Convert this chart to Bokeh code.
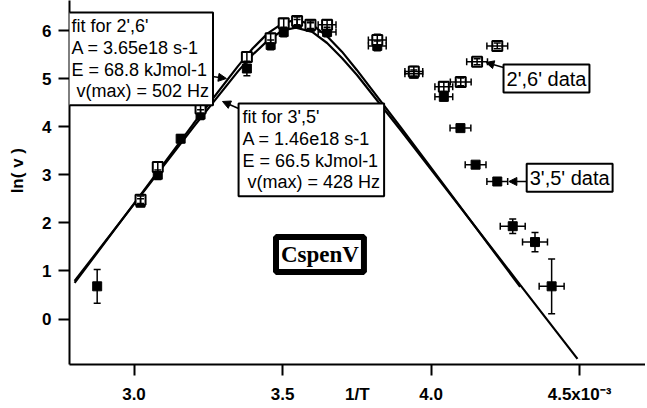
from bokeh.plotting import figure
from bokeh.models import (ColumnDataSource, Whisker, TeeHead, Label, Arrow, NormalHead,
                          FixedTicker, CustomJSTickFormatter, Range1d, LinearAxis,
                          CustomLabelingPolicy)
from bokeh.embed import file_html
from bokeh.resources import INLINE

# ---- data (x in units of 1e-3 K^-1) ----
# 2',6' data (open squares)
x26 = [3.022, 3.080, 3.224, 3.380, 3.460, 3.504, 3.549, 3.594, 3.650, 3.819, 3.942, 4.043, 4.100, 4.155, 4.223]
y26 = [2.48, 3.16, 4.38, 5.45, 5.84, 6.15, 6.20, 6.12, 6.12, 5.80, 5.15, 4.83, 4.93, 5.35, 5.68]
xerr26 = [0, 0, 0, 0, 0, 0, 0, 0, 0.03, 0.03, 0.03, 0.03, 0.035, 0.035, 0.035]
yerr26 = [0.08, 0.10, 0.10, 0.10, 0.10, 0.10, 0.08, 0.08, 0.10, 0.12, 0.10, 0.10, 0.08, 0.06, 0.06]

# 3',5' data (filled squares)
x35 = [2.876, 3.022, 3.080, 3.157, 3.224, 3.380, 3.460, 3.504, 3.549, 3.594, 3.650, 3.819,
       3.942, 4.043, 4.099, 4.150, 4.223, 4.275, 4.350, 4.406]
y35 = [0.68, 2.42, 3.00, 3.75, 4.25, 5.21, 5.70, 5.97, 6.15, 6.08, 5.97, 5.68,
       5.10, 4.62, 3.97, 3.21, 2.86, 1.93, 1.60, 0.68]
xerr35 = [0, 0, 0, 0, 0, 0, 0, 0, 0, 0, 0.03, 0.03,
          0.03, 0.03, 0.035, 0.035, 0.035, 0.042, 0.042, 0.042]
yerr35 = [0.35, 0.08, 0.10, 0.08, 0.10, 0.15, 0.10, 0.10, 0.08, 0.08, 0.10, 0.10,
          0.08, 0.08, 0.06, 0.06, 0.05, 0.15, 0.20, 0.57]

# fit curves (vertices)
fit26_x = [2.80, 3.00, 3.20, 3.35, 3.40, 3.45, 3.50, 3.545, 3.60, 3.65, 3.70, 3.75, 3.90, 4.10, 4.30]
fit26_y = [0.75, 2.40, 4.06, 5.26, 5.63, 5.94, 6.15, 6.22, 6.12, 5.88, 5.56, 5.18, 3.97, 2.32, 0.67]
fit35_x = [2.80, 3.00, 3.20, 3.35, 3.40, 3.45, 3.50, 3.545, 3.60, 3.65, 3.70, 3.75, 3.90, 4.10, 4.30, 4.493]
fit35_y = [0.79, 2.39, 3.99, 5.15, 5.50, 5.79, 6.00, 6.06, 5.97, 5.74, 5.43, 5.08, 3.91, 2.31, 0.71, -0.83]

xticks = [3.0, 3.5, 4.0, 4.5]
yticks = [0, 1, 2, 3, 4, 5, 6]
xtitle = "1/T"
xtitle_pos = 3.752

fit26_text = "fit for 2',6'\nA = 3.65e18 s-1\nE = 68.8 kJmol-1\n\u00a0v(max) = 502 Hz"
fit35_text = "fit for 3',5'\nA = 1.46e18 s-1\nE = 66.5 kJmol-1\n\u00a0v(max) = 428 Hz"

FONT = "Liberation Sans"

p = figure(width=645, height=406, output_backend="svg", toolbar_location=None,
           x_range=Range1d(2.7828, 4.722), y_range=Range1d(-0.946, 6.624),
           min_border_left=69, min_border_right=0, min_border_top=0, min_border_bottom=42)
p.outline_line_color = None
p.xgrid.visible = False
p.ygrid.visible = False
p.background_fill_color = "white"
p.border_fill_color = "white"

def style_axis(ax):
    ax.axis_line_width = 2
    ax.axis_line_color = "black"
    ax.major_tick_line_width = 2
    ax.major_tick_line_color = "black"
    ax.major_tick_out = 11
    ax.major_tick_in = 0
    ax.minor_tick_out = 0
    ax.minor_tick_in = 0
    ax.major_label_text_font = FONT
    ax.major_label_text_font_size = "17px"
    ax.major_label_text_font_style = "bold"
    ax.major_label_text_color = "black"
    ax.axis_label_text_font = FONT
    ax.axis_label_text_font_size = "17px"
    ax.axis_label_text_font_style = "bold"
    ax.axis_label_text_color = "black"

style_axis(p.xaxis[0])
style_axis(p.yaxis[0])

# bottom axis: line and tick marks only (its labels are dropped)
p.xaxis.ticker = FixedTicker(ticks=xticks, minor_ticks=[])
p.xaxis.major_label_text_font_size = "0px"
p.xaxis.major_label_standoff = 0
p.xaxis.major_label_policy = CustomLabelingPolicy(
    code="for (let i = 0; i < indices.size; i++) { indices.unset(i) } return indices")

# second bottom axis: tick labels and the axis title on one row
lab_axis = LinearAxis(ticker=FixedTicker(ticks=xticks + [xtitle_pos], minor_ticks=[]),
                      formatter=CustomJSTickFormatter(
                          args=dict(tpos=xtitle_pos, title=xtitle),
                          code="if (Math.abs(tick - tpos) < 1e-6) { return title; }"
                               " return tick > 4.4 ? '4.5x10\u207b\u00b3' : tick.toFixed(1);"))
style_axis(lab_axis)
lab_axis.axis_line_color = None
lab_axis.major_tick_line_color = None
lab_axis.major_tick_out = 0
lab_axis.major_label_standoff = 9
p.add_layout(lab_axis, "below")

p.yaxis.ticker = FixedTicker(ticks=yticks, minor_ticks=[])
p.yaxis.major_label_standoff = 7
p.yaxis.axis_label = "\u00a0\u00a0\u00a0\u00a0\u00a0ln( v )"
p.yaxis.axis_label_standoff = 12

# fit lines
p.line(fit26_x, fit26_y, line_width=2.2, line_color="black")
p.line(fit35_x, fit35_y, line_width=2.2, line_color="black")

# error bars
def add_errors(xs, ys, xe, ye):
    src_y = ColumnDataSource(dict(x=xs, lo=[y - e for y, e in zip(ys, ye)],
                                  hi=[y + e for y, e in zip(ys, ye)]))
    p.add_layout(Whisker(source=src_y, base="x", lower="lo", upper="hi", dimension="height",
                         line_width=1.5, line_color="black", level="glyph",
                         lower_head=TeeHead(size=7, line_width=1.5),
                         upper_head=TeeHead(size=7, line_width=1.5)))
    sel = [i for i, e in enumerate(xe) if e > 0]
    src_x = ColumnDataSource(dict(y=[ys[i] for i in sel],
                                  lo=[xs[i] - xe[i] for i in sel],
                                  hi=[xs[i] + xe[i] for i in sel]))
    p.add_layout(Whisker(source=src_x, base="y", lower="lo", upper="hi", dimension="width",
                         line_width=1.5, line_color="black", level="glyph",
                         lower_head=TeeHead(size=7, line_width=1.5),
                         upper_head=TeeHead(size=7, line_width=1.5)))

add_errors(x35, y35, xerr35, yerr35)
add_errors(x26, y26, xerr26, yerr26)

p.scatter(x35, y35, marker="square", size=9, fill_color="black", line_color="black")
p.scatter(x26, y26, marker="square", size=10, fill_color="white", line_color="black", line_width=2)

# annotation boxes
def box(x, y, text, size, anchor="top_left", font=FONT, style="normal", bw=2, pad=4, lh=1.08):
    p.add_layout(Label(x=x, y=y, text=text, anchor=anchor, text_font=font,
                       text_font_size=size, text_font_style=style, text_color="black",
                       text_line_height=lh, padding=pad,
                       border_line_color="black", border_line_width=bw,
                       background_fill_color="white"))

box(2.776, 6.375, fit26_text, "18px")
box(3.352, 4.482, fit35_text, "18px")
box(4.244, 5.293, "2',6' data", "20px", pad=3)
box(4.322, 3.228, "3',5' data", "20px", pad=3)
box(3.626, 1.341, "CspenV", "23px", anchor="center", font="Liberation Serif", style="bold", bw=6, pad=5)

def arrow(xs, ys, xe, ye):
    p.add_layout(Arrow(end=NormalHead(size=8, fill_color="black", line_color="black"),
                       x_start=xs, y_start=ys, x_end=xe, y_end=ye,
                       line_width=1.5, line_color="black"))

arrow(3.264, 5.044, 3.311, 5.002)
arrow(3.352, 4.378, 3.298, 4.524)
arrow(4.244, 5.231, 4.185, 5.335)
arrow(4.322, 2.860, 4.262, 2.860)

open("out.html", "w").write(file_html(p, INLINE))
